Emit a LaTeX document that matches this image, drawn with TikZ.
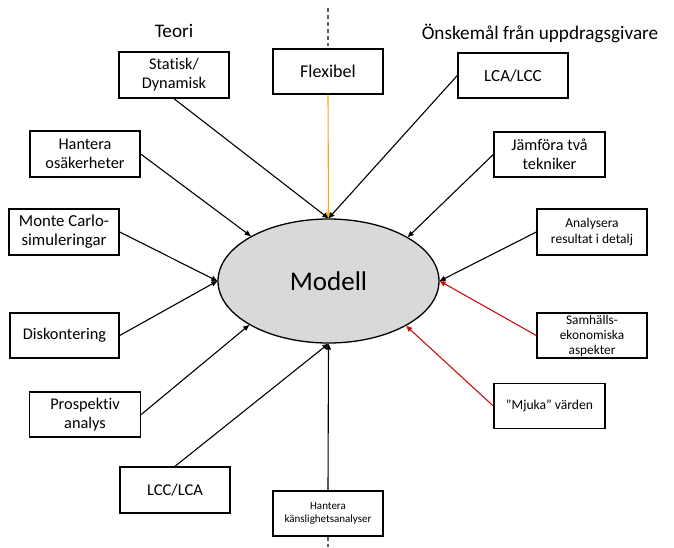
\documentclass[tikz,border=0pt]{standalone}
\usepackage{fontspec}
\setmainfont{Carlito}[Ligatures=NoCommon]
\usetikzlibrary{shapes.geometric,arrows.meta}

\newcommand{\fs}[2]{\fontsize{#1}{#2}\selectfont}

\tikzset{
  box/.style={draw=black, line width=1.4pt, fill=white, minimum width=110pt,
    minimum height=45pt, inner sep=0pt, align=center, font=\fs{16.3}{19}},
  link/.style={draw=black, line width=1.1pt, -{Triangle[length=6pt,width=5pt]}},
  redlink/.style={link, draw={rgb,255:red,200;green,16;blue,16}},
  orangelink/.style={link, draw={rgb,255:red,255;green,165;blue,20}},
  divider/.style={draw={rgb,255:red,90;green,90;blue,90}, line width=1.2pt, dash pattern=on 4pt off 3pt},
  heading/.style={font=\fs{19.2}{23}, inner sep=0pt}
}

\begin{document}
\begin{tikzpicture}[x=1pt,y=-1pt]
  \useasboundingbox (0,0) rectangle (674,547);

  % central model
  \node[ellipse, draw=black, line width=1.3pt, fill={rgb,255:red,217;green,217;blue,217},
        minimum width=221pt, minimum height=124pt, inner sep=0pt, font=\fs{27}{32}]
        (model) at (328.5,281) {Modell};

  % column headings and divider
  \node[heading] (teori) at (174,31) {Teori};
  \node[heading] (onsk) at (540,33) {Önskemål från uppdragsgivare};
  \coordinate (dtop) at (328,8);
  \coordinate (dtopend) at (328,46);
  \coordinate (dbot) at (328,547);

  % theory side
  \node[box, minimum height=46pt] (stat) at (174,75) {Statisk/\\Dynamisk};
  \node[box, minimum height=46pt] (hos) at (85,154) {Hantera\\osäkerheter};
  \node[box, minimum height=46pt, font=\fs{16.8}{19}] (monte) at (64,232) {Monte Carlo-\\simuleringar};
  \node[box, minimum width=109pt] (disk) at (64.5,335.5) {Diskontering};
  \node[box, minimum width=111pt] (prosp) at (85,414.5) {Prospektiv\\analys};
  \node[box, minimum height=46pt, font=\fs{16.5}{19}] (lcclca) at (175,490) {LCC/LCA};
  \node[box, font=\fs{11}{12.5}] (hkans) at (328,513.5) {Hantera\\känslighetsanalyser};

  % middle
  \node[box, font=\fs{18}{20}] (flex) at (328,71.5) {Flexibel};

  % client side
  \node[box, font=\fs{17}{19}] (lcalcc) at (513,75.5) {LCA/LCC};
  \node[box, minimum width=111pt] (jamf) at (549.5,154.5) {Jämföra två\\tekniker};
  \node[box, minimum height=46pt, font=\fs{13.5}{16.5}] (anal) at (592,232) {Analysera\\resultat i detalj};
  \node[box, font=\fs{13.3}{15}] (samh) at (592,335.5) {Samhälls-\\ekonomiska\\aspekter};
  \node[box, minimum width=111pt, font=\fs{13.6}{17}] (mjuka) at (549.5,406) {”Mjuka” värden};

  % divider
  \draw[divider] (dtop) -- (dtopend);
  \draw[divider] (hkans.south) -- (dbot);

  % connectors
  \draw[orangelink] (flex.south) -- (model.north);
  \draw[link] (stat.south) -- (model.north);
  \draw[link] (lcalcc.west) -- (model.north);
  \draw[link] (hos.east) -- (model.150.7);
  \draw[link] (monte.east) -- (model.west);
  \draw[link] (disk.east) -- (model.west);
  \draw[link] (prosp.east) -- (model.209.3);
  \draw[link] (lcclca.north) -- (model.south);
  \draw[link] (hkans.north) -- (model.south);
  \draw[link] (jamf.west) -- (model.29.3);
  \draw[link] (anal.west) -- (model.east);
  \draw[redlink] (samh.west) -- (model.east);
  \draw[redlink] (mjuka.west) -- (model.330.7);
\end{tikzpicture}
\end{document}
